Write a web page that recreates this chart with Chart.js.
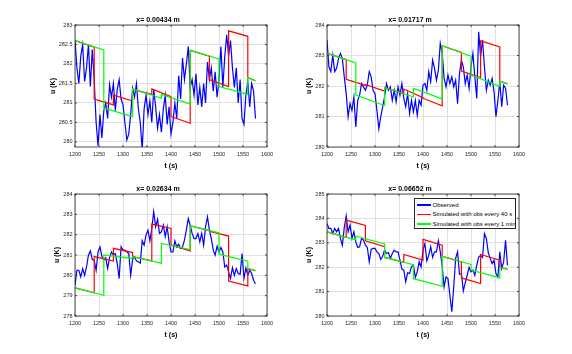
<!DOCTYPE html>
<html>
<head>
<meta charset="utf-8">
<script src="https://cdn.jsdelivr.net/npm/chart.js@4.4.1/dist/chart.umd.min.js"></script>
<style>
  html, body { margin: 0; padding: 0; background: #fff; }
  #wrap { position: relative; width: 572px; height: 354px; overflow: hidden; }
  canvas { position: absolute; }
  #legend { position: absolute; left: 414px; top: 198px; width: 102px; height: 31px;
    box-sizing: border-box; border: 0.8px solid #262626; background: #fff;
    font-family: "Liberation Sans", Arial, sans-serif; font-size: 6px; color: #000; }
  #legend .row { position: absolute; left: 0; height: 8px; line-height: 8px; white-space: nowrap; }
  #legend .swatch { position: absolute; left: 2px; top: 3.3px; width: 14px; height: 1.4px; }
  #legend .txt { position: absolute; left: 17.5px; top: 0; }
</style>
</head>
<body>
<div id="wrap">
  <canvas id="c1" width="230" height="161" style="left:49px;top:12px"></canvas>
  <canvas id="c2" width="230" height="161" style="left:301px;top:12px"></canvas>
  <canvas id="c3" width="230" height="161" style="left:49px;top:181px"></canvas>
  <canvas id="c4" width="230" height="161" style="left:301px;top:181px"></canvas>
  <div id="legend">
    <div class="row" style="top:2px"><span class="swatch" style="background:#0000ff"></span><span class="txt">Observed</span></div>
    <div class="row" style="top:11.4px"><span class="swatch" style="background:#ff0000"></span><span class="txt">Simulated with obs every 40 s</span></div>
    <div class="row" style="top:21px"><span class="swatch" style="background:#00ff00"></span><span class="txt">Simulated with obs every 1 min</span></div>
  </div>
</div>
<script>
// observation times (s), one reading every 4 s
const obsTime = Array.from({ length: 95 }, (_, i) => 1200 + 4 * i);

const titles = ['x= 0.00434 m', 'x= 0.01717 m', 'x= 0.02634 m', 'x= 0.06652 m'];
const xTicks = [1200, 1250, 1300, 1350, 1400, 1450, 1500, 1550, 1600];

const yTicks1 = [280, 280.5, 281, 281.5, 282, 282.5, 283];
const yTicks2 = [280, 281, 282, 283, 284];
const yTicks3 = [278, 279, 280, 281, 282, 283, 284];
const yTicks4 = [280, 281, 282, 283, 284, 285];

const obs1 = [282.62, 281.9, 281.5, 282.2, 282.5, 281.55, 281.9, 282.5, 281.42, 282.37,
  281.6, 280.5, 279.9, 280.7, 280.1, 280.8, 281.0, 280.6, 281.47, 281.15,
  281.5, 280.8, 281.35, 281.6, 281.1, 280.95, 280.5, 280.05, 280.2, 280.7,
  281.38, 281.15, 281.5, 280.85, 280.5, 279.8, 280.85, 281.2, 280.7, 281.05,
  280.5, 281.35, 280.9, 280.35, 280.7, 280.25, 280.85, 281.2, 280.45, 280.9,
  280.2, 280.5, 281.0, 280.6, 281.7, 281.1, 282.15, 281.6, 282.0, 282.45,
  281.4, 281.6, 281.2, 281.75, 280.95, 281.4, 280.9, 281.5, 281.0, 282.05,
  281.6, 281.9, 281.3, 281.8, 281.15, 281.6, 282.45, 281.4, 282.2, 282.75,
  282.2, 282.6, 281.9, 281.4, 281.9, 281.0, 281.6, 280.6, 280.45, 281.2,
  281.55, 280.9, 281.5, 281.3, 280.6];
const obs2 = [283.51, 282.63, 282.47, 283.01, 282.47, 282.58, 282.9, 283.07, 282.9, 282.3,
  281.75, 280.99, 281.42, 281.2, 281.64, 280.66, 281.53, 281.7, 282.08, 281.97,
  281.86, 282.03, 282.47, 282.3, 281.86, 281.75, 281.2, 280.6, 280.99, 281.32,
  281.64, 282.08, 281.86, 281.97, 281.53, 281.86, 281.48, 281.97, 281.7, 282.08,
  281.59, 281.32, 281.75, 281.1, 281.53, 281.15, 281.53, 281.04, 281.53, 281.37,
  282.03, 282.08, 281.86, 282.47, 282.14, 282.85, 282.58, 282.19, 282.52, 283.4,
  283.07, 282.25, 281.97, 282.36, 282.08, 282.3, 281.97, 282.19, 281.42, 282.41,
  282.85, 282.63, 282.08, 282.36, 281.92, 282.63, 283.07, 282.3, 281.59, 283.78,
  282.96, 283.51, 282.63, 281.86, 282.19, 282.03, 282.25, 281.81, 280.99, 281.53,
  282.14, 281.32, 282.03, 281.92, 281.37];
const obs3 = [279.51, 280.25, 280.25, 279.92, 280.33, 280.0, 280.41, 280.99, 281.2, 280.78,
  280.74, 280.25, 281.15, 281.4, 280.94, 280.74, 280.87, 280.33, 280.87, 281.15,
  280.99, 281.07, 280.58, 279.84, 281.4, 281.24, 281.24, 281.15, 281.07, 280.0,
  280.78, 280.91, 280.71, 280.66, 280.61, 281.7, 281.48, 281.98, 282.22, 281.7,
  282.31, 283.13, 282.39, 282.75, 282.06, 282.14, 282.47, 281.9, 282.39, 281.65,
  281.15, 281.15, 281.7, 281.4, 281.53, 281.32, 281.4, 281.73, 282.22, 282.8,
  282.47, 282.06, 281.81, 281.81, 282.06, 281.65, 282.06, 281.48, 282.39, 282.88,
  282.22, 281.81, 281.24, 280.99, 281.43, 281.15, 281.37, 281.15, 280.41, 280.5,
  280.17, 279.84, 280.38, 280.0, 280.33, 280.09, 280.05, 281.07, 279.84, 280.36,
  280.0, 280.25, 280.09, 279.76, 279.59];
const obs4 = [283.79, 283.59, 283.59, 283.38, 283.59, 283.45, 283.59, 283.18, 282.9, 283.63,
  284.1, 283.45, 283.73, 283.18, 283.45, 283.04, 282.81, 282.84, 283.18, 283.11,
  282.9, 282.81, 282.22, 282.73, 282.77, 282.77, 282.63, 282.56, 282.32, 282.45,
  282.7, 282.56, 282.6, 282.36, 282.56, 282.7, 282.63, 282.63, 282.29, 281.92,
  281.88, 281.4, 281.77, 281.74, 282.01, 282.08, 281.58, 281.81, 282.22, 282.01,
  282.7, 282.97, 282.26, 282.49, 282.84, 282.4, 282.63, 282.63, 283.08, 282.63,
  282.04, 281.19, 281.6, 281.53, 280.85, 280.18, 281.19, 282.36, 282.63, 281.71,
  281.74, 281.03, 281.36, 281.67, 281.99, 281.81, 281.88, 281.67, 282.08, 282.42,
  282.49, 282.4, 283.38, 283.18, 282.59, 282.36, 282.15, 282.29, 281.74, 281.6,
  282.63, 281.95, 282.22, 283.1, 282.08];

// simulated runs: breakpoints (repeated time = analysis jump)
const sim40Time = [1200, 1240, 1240, 1280, 1280, 1320, 1320, 1360, 1360, 1400,
  1400, 1440, 1440, 1480, 1480, 1520, 1520, 1560, 1560, 1576];
const sim60Time = [1200, 1260, 1260, 1320, 1320, 1380, 1380, 1440, 1440, 1500,
  1500, 1560, 1560, 1576];

const sim40Val1 = [282.6, 282.43, 281.1, 280.95, 281.2, 281.05, 281.35, 281.22, 281.36, 281.16,
  280.65, 280.48, 282.35, 282.2, 281.6, 281.42, 282.85, 282.71, 281.65, 281.57];
const sim60Val1 = [282.6, 282.36, 280.87, 280.65, 281.36, 281.12, 281.22, 280.97, 282.35, 282.13,
  281.42, 281.22, 281.65, 281.57];
const sim40Val2 = [283.07, 282.87, 282.22, 282.02, 282.05, 281.83, 281.95, 281.75, 281.9, 281.62,
  281.6, 281.35, 283.32, 283.1, 282.49, 282.28, 283.48, 283.28, 282.16, 282.07];
const sim60Val2 = [283.07, 282.76, 281.7, 281.36, 281.95, 281.64, 281.92, 281.58, 283.32, 282.98,
  282.36, 281.99, 282.16, 282.07];
const sim40Val3 = [279.38, 279.14, 280.92, 280.7, 281.33, 281.12, 280.92, 280.71, 282.52, 282.31,
  281.49, 281.2, 282.44, 282.2, 282.17, 281.93, 279.72, 279.48, 280.33, 280.23];
const sim60Val3 = [279.38, 279.02, 281.0, 280.83, 280.92, 280.6, 281.57, 281.27, 282.44, 282.09,
  281.04, 280.7, 280.33, 280.23];
const sim40Val4 = [283.45, 283.23, 283.93, 283.71, 283.08, 282.84, 282.4, 282.2, 282.52, 282.29,
  283.14, 282.9, 282.45, 282.22, 281.56, 281.33, 282.52, 282.29, 281.99, 281.92];
const sim60Val4 = [283.45, 283.12, 283.27, 282.95, 282.4, 282.1, 281.53, 281.22, 282.45, 282.11,
  281.88, 281.56, 281.99, 281.92];

const FONT = '"Liberation Sans", Arial, Helvetica, sans-serif';
const axisColor = '#262626';
const gridColor = '#e0e0e0';

const pts = (xs, ys) => ys.map((y, i) => ({ x: xs[i], y }));

// MATLAB-like box with inward ticks
const boxPlugin = {
  id: 'box',
  afterDatasetsDraw(chart) {
    const { ctx, chartArea: a, scales } = chart;
    ctx.save();
    ctx.strokeStyle = axisColor;
    ctx.lineWidth = 0.8;
    ctx.beginPath();
    scales.x.ticks.forEach(t => {
      const px = scales.x.getPixelForValue(t.value);
      ctx.moveTo(px, a.bottom); ctx.lineTo(px, a.bottom - 2);
      ctx.moveTo(px, a.top); ctx.lineTo(px, a.top + 2);
    });
    scales.y.ticks.forEach(t => {
      const py = scales.y.getPixelForValue(t.value);
      ctx.moveTo(a.left, py); ctx.lineTo(a.left + 2, py);
      ctx.moveTo(a.right, py); ctx.lineTo(a.right - 2, py);
    });
    ctx.stroke();
    ctx.strokeRect(a.left, a.top, a.right - a.left, a.bottom - a.top);
    ctx.restore();
  }
};

function makeChart(id, title, obs, s40, s60, yMin, yMax, yTicks, yTitlePad) {
  return new Chart(document.getElementById(id), {
    type: 'line',
    data: {
      datasets: [
        { data: pts(sim60Time, s60), borderColor: '#00ff00', borderWidth: 1.2 },
        { data: pts(sim40Time, s40), borderColor: '#ff0000', borderWidth: 1.2 },
        { data: pts(obsTime, obs), borderColor: '#0000ff', borderWidth: 1.2 }
      ]
    },
    options: {
      responsive: false,
      animation: false,
      devicePixelRatio: 1,
      layout: { padding: { right: 12 } },
      elements: { point: { radius: 0 }, line: { tension: 0, fill: false } },
      plugins: {
        legend: { display: false },
        tooltip: { enabled: false },
        title: {
          display: true, text: title, color: '#000',
          font: { family: FONT, size: 7, weight: 'bold', lineHeight: 1 },
          padding: { top: 4.5, bottom: 1.5 }
        }
      },
      scales: {
        x: {
          type: 'linear', min: 1200, max: 1600,
          afterBuildTicks: s => { s.ticks = xTicks.map(v => ({ value: v })); },
          afterFit: s => { s.height = 26; },
          grid: { color: gridColor, lineWidth: 1, drawTicks: false },
          border: { display: false },
          ticks: { padding: 5, color: axisColor, autoSkip: false, maxRotation: 0,
            font: { family: FONT, size: 5.5, lineHeight: 1 }, callback: v => String(v) },
          title: { display: true, text: 't (s)', color: '#000',
            font: { family: FONT, size: 7, weight: 'bold', lineHeight: 1 },
            padding: { top: 0, bottom: 3.5 } }
        },
        y: {
          type: 'linear', min: yMin, max: yMax,
          afterBuildTicks: s => { s.ticks = yTicks.map(v => ({ value: v })); },
          afterFit: s => { s.width = 26; },
          grid: { color: gridColor, lineWidth: 1, drawTicks: false },
          border: { display: false },
          ticks: { padding: 2.5, color: axisColor, autoSkip: false,
            font: { family: FONT, size: 5.5, lineHeight: 1 }, callback: v => String(v) },
          title: { display: true, text: 'u (K)', color: '#000',
            font: { family: FONT, size: 7, weight: 'bold', lineHeight: 1 },
            padding: { top: yTitlePad, bottom: 0 } }
        }
      }
    },
    plugins: [boxPlugin]
  });
}

makeChart('c1', titles[0], obs1, sim40Val1, sim60Val1, 279.87, 283, yTicks1, 0.5);
makeChart('c2', titles[1], obs2, sim40Val2, sim60Val2, 280, 284, yTicks2, 4.5);
makeChart('c3', titles[2], obs3, sim40Val3, sim60Val3, 278, 284, yTicks3, 4.5);
makeChart('c4', titles[3], obs4, sim40Val4, sim60Val4, 280, 285, yTicks4, 4.5);
</script>
</body>
</html>
